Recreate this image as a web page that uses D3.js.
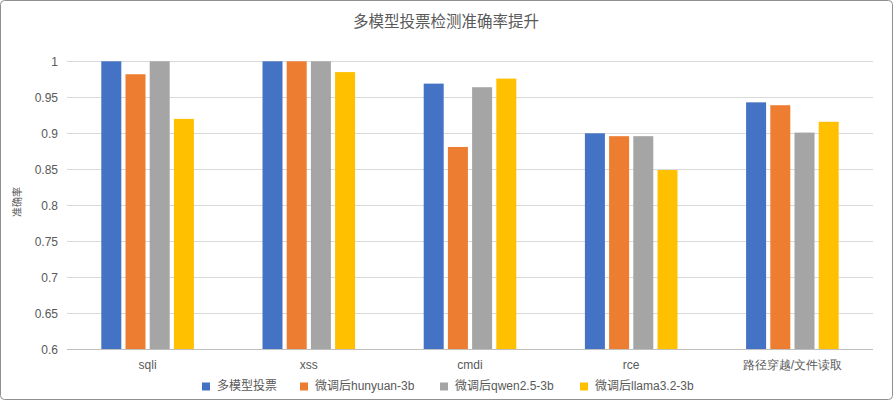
<!DOCTYPE html>
<html><head><meta charset="utf-8">
<script src="https://cdn.jsdelivr.net/npm/d3@7"></script>
<style>
html,body{margin:0;padding:0;background:#fff;}
svg{display:block;font-family:"Liberation Sans","Noto Sans CJK SC",sans-serif;}
</style></head>
<body>
<svg id="chart" width="893" height="400"></svg>
<script>
const title = "多模型投票检测准确率提升";
const yLabel = "准确率";
const categories = ["sqli", "xss", "cmdi", "rce", "路径穿越/文件读取"];
const seriesNames = ["多模型投票", "微调后hunyuan-3b", "微调后qwen2.5-3b", "微调后llama3.2-3b"];
const seriesColors = ["#4472C4", "#ED7D31", "#A5A5A5", "#FFC000"];
const voteValues = [1.0, 1.0, 0.969, 0.900, 0.943];
const hunyuanValues = [0.982, 1.0, 0.881, 0.896, 0.939];
const qwenValues = [1.0, 1.0, 0.964, 0.896, 0.901];
const llamaValues = [0.920, 0.985, 0.976, 0.849, 0.916];
const yTicks = [0.6, 0.65, 0.7, 0.75, 0.8, 0.85, 0.9, 0.95, 1];

const seriesValues = [voteValues, hunyuanValues, qwenValues, llamaValues];
const svg = d3.select("#chart");

svg.append("rect").attr("x", 0.5).attr("y", 0.5).attr("width", 892).attr("height", 399)
  .attr("rx", 4).attr("fill", "#fff").attr("stroke", "#8f8f8f");

const plotLeft = 67, plotRight = 873, plotTop = 61.3, plotBottom = 349.3;
const y = d3.scaleLinear().domain([0.6, 1]).range([plotBottom, plotTop]);
const x0 = d3.scaleBand().domain(categories).range([plotLeft, plotRight]).padding(0);
const groupW = 92.6;
const x1 = d3.scaleBand().domain(seriesNames).range([0, groupW]).paddingInner(0.1736).paddingOuter(0);

// gridlines
svg.append("g").selectAll("line").data(yTicks).join("line")
  .attr("x1", plotLeft).attr("x2", plotRight)
  .attr("y1", d => Math.round(y(d)) + 0.5).attr("y2", d => Math.round(y(d)) + 0.5)
  .attr("stroke", "#d9d9d9").attr("stroke-width", 1);

// y tick labels
const yAxis = d3.axisLeft(y).tickValues(yTicks).tickSize(0).tickPadding(0).tickFormat(d3.format("~g"));
const yg = svg.append("g").attr("transform", `translate(${plotLeft - 9},0)`).call(yAxis);
yg.select(".domain").remove();
yg.selectAll("text").attr("fill", "#595959").attr("font-size", "12px");

// bars
const groups = svg.append("g").selectAll("g").data(categories).join("g")
  .attr("transform", c => `translate(${x0(c) + (x0.bandwidth() - groupW) / 2},0)`);
groups.selectAll("rect").data((c, i) => seriesNames.map((s, j) => ({s, j, v: seriesValues[j][i]})))
  .join("rect")
  .attr("x", d => x1(d.s))
  .attr("width", x1.bandwidth())
  .attr("y", d => y(d.v))
  .attr("height", d => y(0.6) - y(d.v))
  .attr("fill", d => seriesColors[d.j]);

// baseline
svg.append("line").attr("x1", plotLeft).attr("x2", plotRight)
  .attr("y1", Math.round(plotBottom) + 0.5).attr("y2", Math.round(plotBottom) + 0.5)
  .attr("stroke", "#bfbfbf");

// x axis labels
const xAxis = d3.axisBottom(x0).tickSize(0).tickPadding(0);
const xg = svg.append("g").attr("transform", `translate(0,${plotBottom + 11})`).call(xAxis);
xg.select(".domain").remove();
xg.selectAll("text").attr("fill", "#595959").attr("font-size", "12px").attr("dy", "0.71em");

// title
svg.append("text").attr("x", 446).attr("y", 23).attr("text-anchor", "middle")
  .attr("dominant-baseline", "middle").attr("fill", "#595959").attr("font-size", "15.5px").text(title);

// y label
svg.append("text").attr("transform", "translate(18,202) rotate(-90)")
  .attr("text-anchor", "middle").attr("dominant-baseline", "middle")
  .attr("fill", "#595959").attr("font-size", "10px").text(yLabel);

// legend
const legendX = [202, 300, 440, 580];
const lg = svg.append("g").selectAll("g").data(seriesNames).join("g")
  .attr("transform", (d, i) => `translate(${legendX[i]},386.5)`);
lg.append("rect").attr("x", 0).attr("y", -4).attr("width", 8).attr("height", 8)
  .attr("fill", (d, i) => seriesColors[i]);
lg.append("text").attr("x", 15).attr("y", 0).attr("dominant-baseline", "middle")
  .attr("fill", "#595959").attr("font-size", "12px").text(d => d);
</script>
</body></html>
